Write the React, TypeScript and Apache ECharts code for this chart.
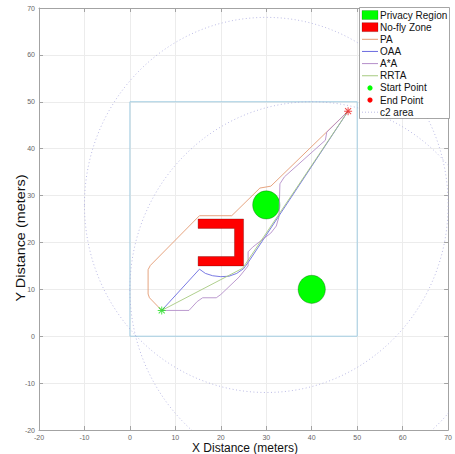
import React, { useEffect, useRef } from 'react';
import * as echarts from 'echarts';

// ---- data ----
const axisMin = -20;
const axisMax = 70;
const axisStep = 10;

const privacyX = [30, 40];
const privacyY = [28, 10];
const privacyR = [3, 3];

const c2X = [30, 40];
const c2Y = [28, 10];
const c2R = [40, 40];

const nfzX = [15, 25, 25, 15, 15, 23, 23, 15];
const nfzY = [25, 25, 15, 15, 17, 17, 23, 23];

const boundX = [0, 50, 50, 0, 0];
const boundY = [0, 0, 50, 50, 0];

const startPt = [7, 5.5];
const endPt = [48, 48];

const paX = [7, 4.3, 4, 4, 4.5, 15.3, 22.4, 28.6, 31, 48];
const paY = [5.5, 8.2, 9, 14.2, 15.1, 25.7, 25.7, 31.6, 32, 48];

const oaaX = [7, 15.3, 16.6, 18.2, 20, 21.8, 23.5, 25, 26.2, 48];
const oaaY = [5.5, 14.3, 13.4, 12.9, 12.7, 12.8, 13.4, 14.4, 16, 48];

const aaX = [7, 13, 14.8, 16, 19, 20, 24, 26, 26, 27, 31, 32.2, 32.8, 33, 34, 43, 43.3, 48];
const aaY = [5.5, 5.5, 7.4, 8.2, 8.2, 8.9, 12.6, 15, 18, 19, 22, 23.5, 25.5, 32.5, 34, 41.8, 43.5, 48];

const rrtaX = [7, 24.8, 48];
const rrtaY = [5.5, 14.5, 48];

const legendNames = ['Privacy Region', 'No-fly Zone', 'PA', 'OAA', 'A*A', 'RRTA', 'Start Point', 'End Point', 'c2 area'];
const xTitle = 'X Distance (meters)';
const yTitle = 'Y Distance (meters)';

const FONT = '"Liberation Sans", Arial, Helvetica, sans-serif';
const C_PA = '#e39a72';
const C_OAA = '#6b6be0';
const C_AA = '#b48ec9';
const C_RRTA = '#a6ca80';
const C_C2 = '#a9a9de';
const C_GREEN = '#00ff00';
const C_RED = '#ff0000';

const asterisk =
  'path://M10.5 0H13.5V24H10.5Z M0 10.5H24V13.5H0Z M1.9 4L4 1.9L22.1 20L20 22.1Z M20 1.9L22.1 4L4 22.1L1.9 20Z';

export default function App() {
  const ref = useRef<HTMLDivElement>(null);
  useEffect(() => {
    const chart = echarts.init(ref.current as HTMLDivElement, null, { renderer: 'svg' });
    const pts = (xs: number[], ys: number[]) => xs.map((x, i) => [x, ys[i]]);

    const ellipseRender = (style: any) => (params: any, api: any) => {
      const c = api.coord([api.value(0), api.value(1)]);
      const s = api.size([api.value(2), api.value(2)]);
      return {
        type: 'ellipse',
        shape: { cx: c[0], cy: c[1], rx: s[0], ry: s[1] },
        style,
      };
    };

    const axisLineStyle = { color: '#a3a3a3', width: 1 };
    const mkX = (pos: string, labels: boolean) => ({
      type: 'value',
      min: axisMin,
      max: axisMax,
      interval: axisStep,
      position: pos,
      axisLine: { show: true, onZero: false, lineStyle: axisLineStyle },
      axisTick: { show: true, inside: true, length: 4, lineStyle: axisLineStyle },
      axisLabel: { show: labels, fontSize: 7, color: '#666', margin: 4, fontFamily: FONT },
      splitLine: { show: labels, lineStyle: { color: '#ececec', width: 1 } },
    });

    const lineSeries = (name: string, xs: number[], ys: number[], color: string) => ({
      type: 'line',
      name,
      data: pts(xs, ys),
      showSymbol: false,
      lineStyle: { color, width: 0.9 },
      z: 5,
    });

    // legend
    const lx = 359.5, ly = 7.5, lw = 90, lh = 111;
    const row0 = 15, rowGap = 12.15;
    const Z = 100;
    const legendElems: any[] = [
      { type: 'rect', z: Z, shape: { x: lx, y: ly, width: lw, height: lh }, style: { fill: '#fff', stroke: '#8f8f8f', lineWidth: 0.8 } },
    ];
    const iconL = 362, iconR = 378, textX = 380;
    const lineColors: Record<number, string> = { 2: C_PA, 3: C_OAA, 4: C_AA, 5: C_RRTA };
    legendNames.forEach((name, i) => {
      const cy = row0 + i * rowGap;
      if (i === 0 || i === 1) {
        legendElems.push({
          type: 'rect',
          z: Z + 1,
          shape: { x: iconL, y: cy - 4.5, width: iconR - iconL, height: 9 },
          style: { fill: i === 0 ? C_GREEN : C_RED, stroke: 'rgba(0,0,0,0.3)', lineWidth: 0.6 },
        });
      } else if (i >= 2 && i <= 5) {
        legendElems.push({
          type: 'line',
          z: Z + 1,
          shape: { x1: iconL, y1: cy, x2: iconR, y2: cy },
          style: { stroke: lineColors[i], lineWidth: 1 },
        });
      } else if (i === 6 || i === 7) {
        legendElems.push({
          type: 'circle',
          z: Z + 1,
          shape: { cx: 370, cy, r: 2.6 },
          style: { fill: i === 6 ? C_GREEN : C_RED },
        });
      } else {
        legendElems.push({
          type: 'line',
          z: Z + 1,
          shape: { x1: iconL, y1: cy, x2: iconR, y2: cy },
          style: { stroke: C_C2, lineWidth: 0.8, lineDash: [1, 2] },
        });
      }
      legendElems.push({
        type: 'text',
        z: Z + 1,
        x: textX,
        y: cy,
        style: { text: name, fontSize: 10, fontFamily: FONT, fill: '#111', align: 'left', verticalAlign: 'middle', textAlign: 'left', textVerticalAlign: 'middle' },
      });
    });

    const option: any = {
      animation: false,
      backgroundColor: '#fff',
      grid: { left: 39, right: 4, top: 8, bottom: 24, containLabel: false },
      xAxis: [mkX('bottom', true), mkX('top', false)],
      yAxis: [
        { ...mkX('left', true), position: 'left' },
        { ...mkX('right', false), position: 'right' },
      ],
      series: [
        {
          type: 'line',
          name: 'boundary',
          data: pts(boundX, boundY),
          showSymbol: false,
          lineStyle: { color: '#a3cde2', width: 1 },
          z: 2,
        },
        {
          type: 'custom',
          name: 'c2 area',
          clip: true,
          data: c2X.map((x, i) => [x, c2Y[i], c2R[i]]),
          encode: { x: 0, y: 1 },
          renderItem: ellipseRender({ fill: 'none', stroke: C_C2, lineWidth: 0.8, lineDash: [1, 2.5] }),
          z: 3,
        },
        {
          type: 'custom',
          name: 'Privacy Region',
          data: privacyX.map((x, i) => [x, privacyY[i], privacyR[i]]),
          encode: { x: 0, y: 1 },
          renderItem: ellipseRender({ fill: C_GREEN, stroke: 'rgba(0,60,0,0.45)', lineWidth: 0.7 }),
          z: 4,
        },
        {
          type: 'custom',
          name: 'No-fly Zone',
          data: [[nfzX[0], nfzY[0]]],
          encode: { x: 0, y: 1 },
          renderItem: (params: any, api: any) => ({
            type: 'polygon',
            shape: { points: nfzX.map((x, i) => api.coord([x, nfzY[i]])) },
            style: { fill: C_RED, stroke: 'rgba(80,0,0,0.45)', lineWidth: 0.7 },
          }),
          z: 4,
        },
        lineSeries('PA', paX, paY, C_PA),
        lineSeries('OAA', oaaX, oaaY, C_OAA),
        lineSeries('A*A', aaX, aaY, C_AA),
        lineSeries('RRTA', rrtaX, rrtaY, C_RRTA),
        {
          type: 'scatter',
          name: 'Start Point',
          data: [startPt],
          symbol: asterisk,
          symbolSize: 8,
          itemStyle: { color: '#22e022' },
          z: 6,
        },
        {
          type: 'scatter',
          name: 'End Point',
          data: [endPt],
          symbol: asterisk,
          symbolSize: 8,
          itemStyle: { color: '#ee2222' },
          z: 6,
        },
      ],
      graphic: [
        {
          type: 'text',
          x: 245,
          y: 448,
          z: 50,
          style: { text: xTitle, fontSize: 12, fontFamily: FONT, fill: '#111', align: 'center', verticalAlign: 'middle', textAlign: 'center', textVerticalAlign: 'middle' },
        },
        {
          type: 'text',
          x: 20.5,
          y: 238,
          rotation: Math.PI / 2,
          scaleX: 1.2,
          z: 50,
          style: { text: yTitle, fontSize: 12, fontFamily: FONT, fill: '#111', align: 'center', verticalAlign: 'middle', textAlign: 'center', textVerticalAlign: 'middle' },
        },
        ...legendElems,
      ],
    };
    chart.setOption(option);
    return () => chart.dispose();
  }, []);
  return <div ref={ref} style={{ position: 'absolute', left: 0, top: 0, width: 455, height: 454 }} />;
}
